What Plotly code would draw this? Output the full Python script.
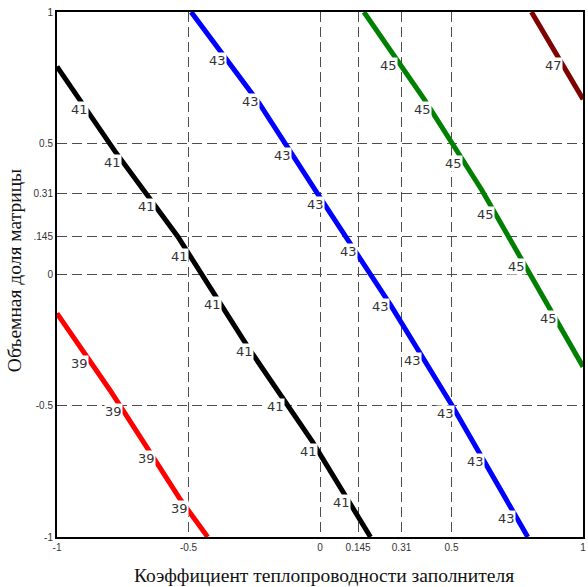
import plotly.graph_objects as go

# Contour levels of the response and their line colours
levels = [39, 41, 43, 45, 47]
level_colors = ["#ff0000", "#000000", "#0000ff", "#008000", "#800000"]

# Contour polylines: x = filler thermal conductivity, y = matrix volume fraction (coded units)
x39 = [-1.0, -0.799, -0.660, -0.534, -0.427]
y39 = [-0.148, -0.440, -0.656, -0.853, -1.0]

x41 = [-1.0, -0.78, -0.541, -0.275, -0.029, 0.192]
y41 = [0.792, 0.47, 0.145, -0.275, -0.637, -1.0]

x43 = [-0.49, -0.231, -0.010, 0.268, 0.501, 0.79]
y43 = [1.0, 0.652, 0.309, -0.116, -0.497, -1.0]

x45 = [0.167, 0.394, 0.615, 0.867, 1.0]
y45 = [1.0, 0.671, 0.322, -0.123, -0.351]

x47 = [0.804, 1.0]
y47 = [1.0, 0.668]

# Inline level labels along each contour
lab39_x = [-0.913, -0.787, -0.660, -0.534]
lab39_y = [-0.338, -0.523, -0.700, -0.891]

lab41_x = [-0.913, -0.788, -0.660, -0.534, -0.408, -0.288, -0.168, -0.042, 0.083]
lab41_y = [0.627, 0.425, 0.258, 0.068, -0.116, -0.294, -0.504, -0.675, -0.870]

lab43_x = [-0.389, -0.263, -0.143, -0.016, 0.110, 0.230, 0.350, 0.476, 0.590, 0.709]
lab43_y = [0.817, 0.658, 0.455, 0.265, 0.087, -0.123, -0.326, -0.529, -0.713, -0.929]

lab45_x = [0.261, 0.388, 0.508, 0.628, 0.747, 0.867]
lab45_y = [0.798, 0.627, 0.424, 0.227, 0.030, -0.167]

lab47_x = [0.886]
lab47_y = [0.798]

# Axis ticks
x_tick_vals = [-1, -0.5, 0, 0.145, 0.31, 0.5, 1]
x_tick_text = ["-1", "-0.5", "0", "0.145", "0.31", "0.5", "1"]
y_tick_vals = [-1, -0.5, 0, 0.145, 0.31, 0.5, 1]
y_tick_text = ["-1", "-0.5", "0", ".145", "0.31", "0.5", "1"]

x_title = "Коэффициент теплопроводности заполнителя"
y_title = "Объемная доля матрицы"

lines = [(x39, y39), (x41, y41), (x43, y43), (x45, y45), (x47, y47)]
labels = [(lab39_x, lab39_y), (lab41_x, lab41_y), (lab43_x, lab43_y),
          (lab45_x, lab45_y), (lab47_x, lab47_y)]

fig = go.Figure()
for lvl, col, (xs, ys) in zip(levels, level_colors, lines):
    fig.add_trace(go.Scatter(x=xs, y=ys, mode="lines", name=str(lvl),
                             line=dict(color=col, width=5),
                             hoverinfo="skip", showlegend=False))

annotations = []
for lvl, (lx, ly) in zip(levels, labels):
    for xv, yv in zip(lx, ly):
        annotations.append(dict(
            x=xv, y=yv, xref="x", yref="y", text=str(lvl), showarrow=False,
            font=dict(family="DejaVu Sans, Verdana, sans-serif", size=13, color="#333333"),
            bgcolor="white", borderpad=0, xanchor="center", yanchor="middle"))

annotations.append(dict(
    x=0.5076, y=-0.074, xref="paper", yref="paper", text=x_title, showarrow=False,
    font=dict(family="Liberation Serif, Times New Roman, serif", size=19.5, color="#111111"),
    xanchor="center", yanchor="middle"))
annotations.append(dict(
    x=-0.0795, y=0.5067, xref="paper", yref="paper", text=y_title, showarrow=False,
    textangle=-90,
    font=dict(family="Liberation Serif, Times New Roman, serif", size=19.5, color="#111111"),
    xanchor="center", yanchor="middle"))

axis_common = dict(
    range=[-1, 1], showgrid=True, gridcolor="#4d4d4d", gridwidth=1.3, griddash="10px,5px",
    zeroline=False, showline=True, linecolor="black", linewidth=2, mirror=True,
    ticks="", tickfont=dict(family="Liberation Sans, Arial, sans-serif", size=10, color="#333333"),
)

fig.update_layout(
    width=588, height=587,
    margin=dict(l=57, r=3, t=12, b=50),
    paper_bgcolor="white", plot_bgcolor="white",
    xaxis=dict(tickvals=x_tick_vals, ticktext=x_tick_text, **axis_common),
    yaxis=dict(tickvals=y_tick_vals, ticktext=y_tick_text, **axis_common),
    annotations=annotations,
)

fig.write_html("out.html")
